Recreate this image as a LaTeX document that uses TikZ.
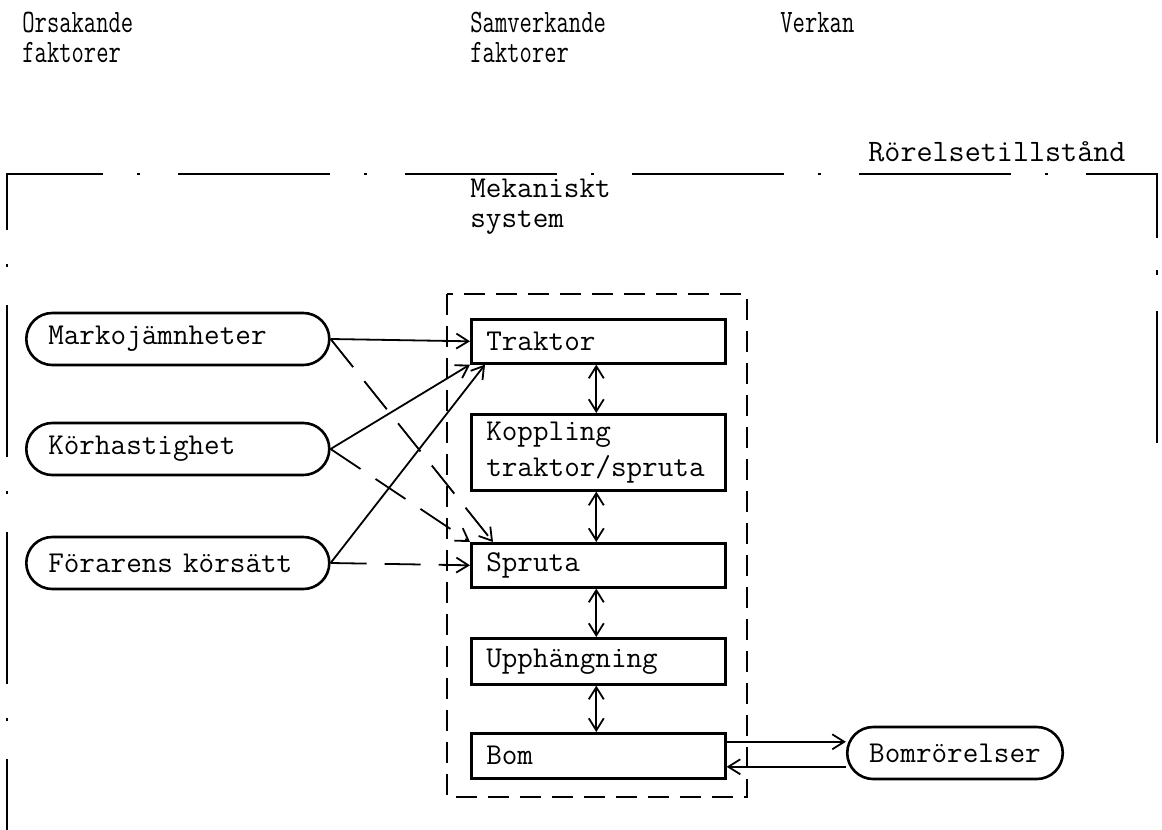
\documentclass[tikz,border=0pt]{standalone}
\usepackage{fontspec}
\usepackage{graphicx}
\usetikzlibrary{arrows.meta}
\newcommand\bxfont{\ttfamily\fontsize{15.14pt}{18pt}\selectfont}
\newcommand\twofont{\ttfamily\fontsize{15.14pt}{15pt}\selectfont}
\newcommand\rsfont{\ttfamily\fontsize{15.6pt}{15pt}\selectfont}
\newcommand\hdtxt[1]{\scalebox{0.79}[1.08]{\ttfamily\fontsize{15.14pt}{14pt}\selectfont\begin{tabular}{@{}l@{}}#1\end{tabular}}}
\begin{document}
\begin{tikzpicture}[x=0.5pt,y=-0.5pt,
  lbl/.style={inner sep=0pt, font=\twofont, align=left},
  hd/.style={inner sep=0pt, anchor=north west},
  box/.style={draw, line width=1.3pt, text width=112pt, inner xsep=7.5pt, inner ysep=0pt, align=left, font=\bxfont, anchor=north west},
  stadium/.style={draw, line width=1.3pt, rounded corners=13pt, minimum height=26pt, text width=129.5pt, inner xsep=11pt, inner ysep=0pt, align=left, font=\bxfont, anchor=west},
  oval/.style={draw, line width=1.3pt, rounded corners=13pt, minimum height=26pt, inner xsep=11pt, inner ysep=0pt, font=\bxfont},
  tip/.tip={Straight Barb[length=6pt,width=7.5pt]},
  arr/.style={line width=0.9pt, -tip},
  darr/.style={line width=0.9pt, -tip, dash pattern=on 18pt off 9pt},
  dbl/.style={line width=0.9pt, tip-tip},
  frame/.style={line width=1.2pt, dash pattern=on 76pt off 17pt on 1.5pt off 19pt},
  mechbox/.style={line width=1.2pt, dash pattern=on 10.5pt off 5.5pt}]
\useasboundingbox (0,0) rectangle (1162,830);

% headings
\node[hd] (h1) at (22,11) {\hdtxt{Orsakande\\faktorer}};
\node[hd] (h2) at (470,11) {\hdtxt{Samverkande\\faktorer}};
\node[hd] (h3) at (780,11) {\hdtxt{Verkan}};
\node[inner sep=0pt, font=\rsfont, anchor=west] (rs) at (868,152) {Rörelsetillstånd};
\node[lbl, anchor=north west] (mek) at (470,179) {Mekaniskt\\system};

% outer frame
\draw[frame, dash phase=76pt] (7,230) -- (7,830);
\draw[frame] (7,230) -- (7,174) -- (1157,174);
\draw[frame, dash phase=44.5pt, line cap=rect] (1157,174) -- (1157,442);

% mechanical system frame
\draw[mechbox] (447,294) rectangle (747,797);

% cause nodes
\node[stadium] (mk) at (25,339) {Markojämnheter};
\node[stadium] (kh) at (25,449) {Körhastighet};
\node[stadium] (fk) at (25,563) {Förarens körsätt};

% system boxes
\node[box, minimum height=22pt] (tr) at (470,318) {Traktor};
\node[box, minimum height=38pt] (kp) at (470,413) {Koppling\\traktor/spruta};
\node[box, minimum height=22pt] (sp) at (470,542) {Spruta};
\node[box, minimum height=23pt] (up) at (470,637) {Upphängning};
\node[box, minimum height=22.5pt] (bom) at (470,732) {Bom};

% effect
\node[oval] (br) at (955,753) {Bomrörelser};

% solid connectors
\draw[arr] (mk.east) -- (tr.west);
\draw[arr] (kh.east) -- (tr.south west);
\draw[arr] (fk.east) -- ([xshift=7.5pt]tr.south west);
% dashed connectors
\draw[darr] (mk.east) -- ([xshift=11.5pt]sp.north west);
\draw[darr] (kh.east) -- (sp.north west);
\draw[darr] (fk.east) -- (sp.west);

% internal couplings
\draw[dbl] ([xshift=-1pt]tr.south) -- ([xshift=-1pt]kp.north);
\draw[dbl] ([xshift=-1pt]kp.south) -- ([xshift=-1pt]sp.north);
\draw[dbl] ([xshift=-1pt]sp.south) -- ([xshift=-1pt]up.north);
\draw[dbl] ([xshift=-1pt]up.south) -- ([xshift=-1pt]bom.north);

% bom <-> bomrörelser
\draw[arr] ([yshift=7pt]bom.east) -- ([yshift=7pt]bom.east -| br.west);
\draw[arr] ([yshift=-5.5pt]bom.east -| br.west) -- ([yshift=-5.5pt]bom.east);
\end{tikzpicture}
\end{document}
